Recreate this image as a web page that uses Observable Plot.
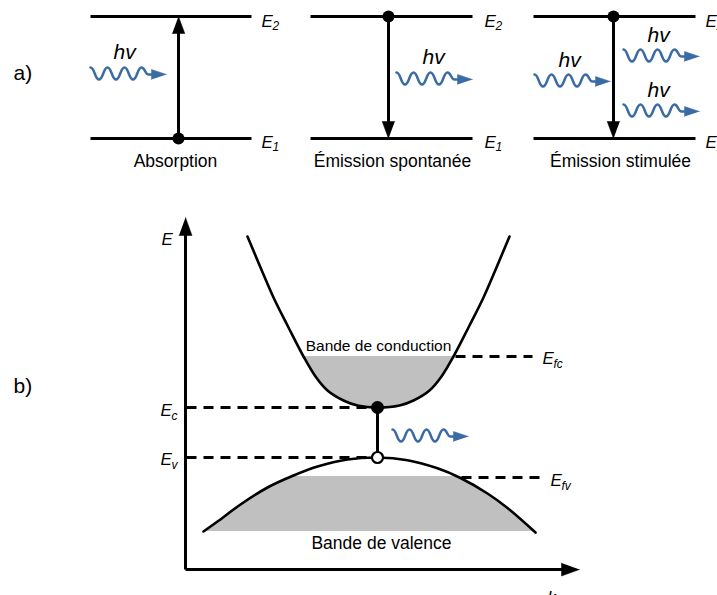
<!DOCTYPE html>
<html>
<head>
<meta charset="utf-8">
<script src="https://cdn.jsdelivr.net/npm/d3@7"></script>
<script src="https://cdn.jsdelivr.net/npm/@observablehq/plot@0.6"></script>
<style>
  html, body { margin: 0; padding: 0; background: #fff; overflow: hidden; }
</style>
</head>
<body>
<div id="chart"></div>
<script>
const FONT = "'Liberation Sans', Arial, Helvetica, sans-serif";
const INK = "#000";
const BLUE = "#3a6ba5";
const GREY = "#c0c0c0";

// ---------- a) three radiative transitions ----------
const processNames   = ["Absorption", "Émission spontanée", "Émission stimulée"];
const levelStartX    = [90, 310, 533];
const levelEndX      = [251, 472, 695];
const upperLevelY    = 16;
const lowerLevelY    = 138;
const transitionX    = [178, 388, 613];
const transitionDir  = ["up", "down", "down"];
const processLabelX  = [175, 392, 620];
const processLabelY  = 166;
const levelLabelX    = [261, 484, 705];
const levelNames     = ["E", "E"];
const levelSubs      = ["2", "1"];

// photons: [start x, arrow-line y]
const photonStartX = [90, 396, 534, 623, 623, 392];
const photonLineY  = [74, 79, 81, 56, 111, 436];
// "hν" labels: [start x, baseline]
const hvX = [113, 422, 558, 647, 647];
const hvY = [58, 63, 66, 41, 96];
// one photon glyph (offsets along the wave)
const waveDX = [0, 8.5, 17, 25.5, 34, 42.5, 51, 58, 63];
const waveDY = [-7, 5, -7, 5, -7, 5, -7, 0, 0];
const waveHeadTip = 76, waveHeadLen = 15, waveHeadHalf = 5;

// ---------- b) band diagram ----------
const condK = [247, 260, 273, 288, 303, 315, 327, 343, 357, 378, 399, 413, 429, 441, 453, 468, 483, 496, 509];
const condE = [236, 267, 297, 327, 356, 376, 390, 400, 405, 407, 405, 400, 390, 376, 356, 327, 297, 267, 236];
const valK  = [203, 217, 240, 267, 293, 317, 347, 377, 407, 437, 460, 487, 507, 535];
const valE  = [531, 521, 504, 487, 475, 466, 459, 457, 459.7, 467.8, 477.5, 493, 507.5, 532];
const condFillTop = 356, valFillTop = 476, valFillBottom = 531, condTop = 236;

const Ec = 407, Ev = 457, Efc = 356, Efv = 477;
const kTransition = 377;
const axisX = 185, axisY = 569, axisTopTip = 217, axisRightTip = 579;

// ---------- build tables ----------
const segs = [];
processNames.forEach((p, i) => {
  segs.push({x1: levelStartX[i], x2: levelEndX[i], y1: upperLevelY, y2: upperLevelY});
  segs.push({x1: levelStartX[i], x2: levelEndX[i], y1: lowerLevelY, y2: lowerLevelY});
});

const heads = [];
function head(id, tx, ty, dx, dy, len, hw) {
  const bx = tx - dx * len, by = ty - dy * len;
  heads.push({id, x: tx, y: ty});
  heads.push({id, x: bx - dy * hw, y: by + dx * hw});
  heads.push({id, x: bx + dy * hw, y: by - dx * hw});
}
const shafts = [];
const dotsA = [];
transitionX.forEach((x, i) => {
  const up = transitionDir[i] === "up";
  const from = up ? lowerLevelY : upperLevelY;
  const tip = up ? upperLevelY : lowerLevelY;
  const dir = up ? -1 : 1;
  shafts.push({x1: x, x2: x, y1: from, y2: tip - dir * 14});
  head("t" + i, x, tip, 0, dir, 17, 6.3);
  dotsA.push({x, y: from});
});
// axes
shafts.push({x1: axisX, x2: axisX, y1: axisY, y2: axisTopTip + 15});
shafts.push({x1: axisX, x2: axisRightTip - 15, y1: axisY, y2: axisY});
head("ax", axisX, axisTopTip, 0, -1, 18, 6.5);
head("ak", axisRightTip, axisY, 1, 0, 18, 6.5);
// transition in b
shafts.push({x1: kTransition, x2: kTransition, y1: Ec, y2: Ev});

const dashes = [
  {x1: axisX + 1, x2: kTransition - 4, y1: Ec, y2: Ec},
  {x1: axisX + 1, x2: kTransition - 4, y1: Ev, y2: Ev},
  {x1: 455, x2: 532, y1: Efc, y2: Efc},
  {x1: 461, x2: 542, y1: Efv, y2: Efv}
];

const wavePts = [];
const waveHeads = [];
photonStartX.forEach((x0, i) => {
  const y0 = photonLineY[i];
  waveDX.forEach((dx, j) => wavePts.push({id: i, x: x0 + dx, y: y0 + waveDY[j]}));
  const tx = x0 + waveHeadTip;
  waveHeads.push({id: i, x: tx, y: y0});
  waveHeads.push({id: i, x: tx - waveHeadLen, y: y0 - waveHeadHalf});
  waveHeads.push({id: i, x: tx - waveHeadLen, y: y0 + waveHeadHalf});
});

const cond = condK.map((k, i) => ({x: k, y: condE[i]}));
const val = valK.map((k, i) => ({x: k, y: valE[i]}));

const masks = [
  {x1: 235, x2: 525, y1: condTop - 6, y2: condFillTop},
  {x1: 280, x2: 475, y1: 445, y2: valFillTop}
];

// texts
const bigTexts = [
  {t: "a)", x: 13, y: 79},
  {t: "b)", x: 13, y: 392}
];
const procTexts = processNames.map((p, i) => ({t: p, x: processLabelX[i], y: processLabelY}));
const Es = [], subs = [];
levelLabelX.forEach(x => {
  Es.push({t: levelNames[0], x, y: 26.5}); subs.push({t: levelSubs[0], x: x + 11, y: 29.5});
  Es.push({t: levelNames[1], x, y: 147}); subs.push({t: levelSubs[1], x: x + 11, y: 150});
});
Es.push({t: "E", x: 161, y: 244.5});
Es.push({t: "E", x: 160, y: 415.5}); subs.push({t: "c", x: 171, y: 419.5});
Es.push({t: "E", x: 160, y: 464.5}); subs.push({t: "v", x: 171, y: 468.5});
Es.push({t: "E", x: 542, y: 363.5}); subs.push({t: "fc", x: 553, y: 367.5});
Es.push({t: "E", x: 550, y: 485.5}); subs.push({t: "fv", x: 561, y: 489.5});
Es.push({t: "k", x: 547, y: 602});
const hvTexts = hvX.map((x, i) => ({t: "hv", x, y: hvY[i]}));
const bandTexts = [
  {t: "Bande de conduction", x: 378, y: 350, s: 15.5},
  {t: "Bande de valence", x: 381, y: 548, s: 17.5}
];

const chart = Plot.plot({
  width: 717,
  height: 595,
  margin: 0,
  x: {domain: [0, 717], axis: null},
  y: {domain: [0, 595], reverse: true, axis: null},
  style: {background: "#fff", fontFamily: FONT},
  marks: [
    Plot.areaY(cond, {x: "x", y1: "y", y2: condTop, curve: "catmull-rom", fill: GREY}),
    Plot.areaY(val, {x: "x", y1: "y", y2: valFillBottom, curve: "catmull-rom", fill: GREY}),
    Plot.rect(masks, {x1: "x1", x2: "x2", y1: "y1", y2: "y2", fill: "#fff"}),
    Plot.text(bandTexts, {x: "x", y: "y", text: "t", fontSize: d => d.s, textAnchor: "middle", lineAnchor: "bottom", fill: INK, fontFamily: FONT}),
    Plot.line(cond, {x: "x", y: "y", curve: "catmull-rom", stroke: INK, strokeWidth: 2.6}),
    Plot.line(val, {x: "x", y: "y", curve: "catmull-rom", stroke: INK, strokeWidth: 2.6}),
    Plot.link(dashes, {x1: "x1", x2: "x2", y1: "y1", y2: "y2", stroke: INK, strokeWidth: 2.8, strokeDasharray: "10,7"}),
    Plot.link(segs, {x1: "x1", x2: "x2", y1: "y1", y2: "y2", stroke: INK, strokeWidth: 3}),
    Plot.link(shafts, {x1: "x1", x2: "x2", y1: "y1", y2: "y2", stroke: INK, strokeWidth: 3}),
    Plot.line(heads, {x: "x", y: "y", z: "id", fill: INK, stroke: INK, strokeWidth: 0.5}),
    Plot.dot(dotsA, {x: "x", y: "y", r: 6, fill: INK}),
    Plot.dot([{x: kTransition, y: Ec}], {x: "x", y: "y", r: 6.5, fill: INK}),
    Plot.dot([{x: kTransition, y: Ev}], {x: "x", y: "y", r: 5.5, fill: "#fff", stroke: INK, strokeWidth: 2.2}),
    Plot.line(wavePts, {x: "x", y: "y", z: "id", curve: "bump-x", stroke: BLUE, strokeWidth: 2.5, strokeLinecap: "round"}),
    Plot.line(waveHeads, {x: "x", y: "y", z: "id", fill: BLUE, stroke: BLUE, strokeWidth: 0.5}),
    Plot.text(bigTexts, {x: "x", y: "y", text: "t", fontSize: 21, textAnchor: "start", lineAnchor: "bottom", fill: INK, fontFamily: FONT}),
    Plot.text(procTexts, {x: "x", y: "y", text: "t", fontSize: 17.5, textAnchor: "middle", lineAnchor: "bottom", fill: INK, fontFamily: FONT}),
    Plot.text(Es, {x: "x", y: "y", text: "t", fontSize: 17, fontStyle: "italic", textAnchor: "start", lineAnchor: "bottom", fill: INK, fontFamily: FONT}),
    Plot.text(subs, {x: "x", y: "y", text: "t", fontSize: 12, fontStyle: "italic", textAnchor: "start", lineAnchor: "bottom", fill: INK, fontFamily: FONT}),
    Plot.text(hvTexts, {x: "x", y: "y", text: "t", fontSize: 21, fontStyle: "italic", textAnchor: "start", lineAnchor: "bottom", fill: INK, fontFamily: FONT, ariaLabel: "hv"})
  ]
});
d3.select(chart).selectAll('g[aria-label="hv"] text').attr("letter-spacing", "1px");
document.getElementById("chart").appendChild(chart);
</script>
</body>
</html>
